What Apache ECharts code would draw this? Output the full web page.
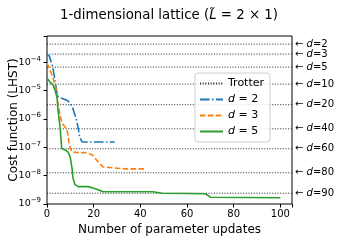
<!DOCTYPE html>
<html><head><meta charset="utf-8">
<script src="https://cdn.jsdelivr.net/npm/echarts@6/dist/echarts.min.js"></script>
<style>html,body{margin:0;padding:0;background:#fff}#c{width:338px;height:242px}</style>
</head><body><div id="c"></div>
<script>
// ---- data ----
const d2Steps = [0, 1, 2.2, 3, 3.9, 4.5, 6, 9, 11, 12.3, 13.3, 14, 15, 29];
const d2Cost  = [1.95e-4, 1.66e-4, 7.9e-5, 3.9e-5, 1.26e-5, 6.5e-6, 5.5e-6, 4.4e-6, 2.45e-6, 1.17e-6, 5.2e-7, 2.3e-7, 1.55e-7, 1.55e-7];
const d3Steps = [0, 2.5, 3.4, 4.3, 4.7, 5.6, 6.4, 7.7, 8.6, 9.4, 9.9, 10.7, 13.3, 16.3, 19.3, 21.9, 24, 27.9, 33.4, 42];
const d3Cost  = [9.5e-5, 3.0e-5, 1.58e-5, 8.3e-6, 3.2e-6, 1.41e-6, 7.2e-7, 5.2e-7, 4.2e-7, 1.55e-7, 9.5e-8, 6.9e-8, 6.5e-8, 6.5e-8, 5.5e-8, 3.1e-8, 2.04e-8, 1.9e-8, 1.74e-8, 1.74e-8];
const d5Steps = [0, 1.3, 2.6, 3.4, 4.3, 4.7, 5.6, 6.3, 7.7, 9, 9.9, 10.7, 11.1, 12, 13.3, 17.6, 19.7, 21.9, 24, 45.4, 49.3, 68, 70, 100];
const d5Cost  = [2.8e-5, 2.0e-5, 1.58e-5, 1.05e-5, 5.9e-6, 2.1e-6, 5.2e-7, 9.3e-8, 8.1e-8, 6.9e-8, 4.7e-8, 1.9e-8, 8.5e-9, 4.8e-9, 4.1e-9, 4.1e-9, 3.7e-9, 3.2e-9, 2.7e-9, 2.7e-9, 2.4e-9, 2.3e-9, 1.74e-9, 1.66e-9];
const trotterD    = [2, 3, 5, 10, 20, 40, 60, 80, 90];
const trotterCost = [4.4e-4, 1.95e-4, 6.8e-5, 1.7e-5, 3.2e-6, 4.5e-7, 8.9e-8, 1.26e-8, 2.4e-9];
const xRange = [0, 105];
const xTicks = [0, 20, 40, 60, 80, 100];

const FONT = 'DejaVu Sans';
const zip = (a, b) => a.map((v, i) => [v, b[i]]);

const trotterSeries = trotterCost.map((v, i) => ({
  name: 'Trotter', type: 'line', data: xRange.map(x => [x, v]),
  symbol: 'none', showSymbol: false, silent: true, z: 2,
  itemStyle: {color: '#222'},
  lineStyle: {color: '#222', width: 1, type: [1, 1.65]},
  endLabel: {show: true, distance: 3, fontFamily: FONT, fontSize: 10, color: '#000',
    formatter: '\u2190 {i|d}=' + trotterD[i],
    rich: {i: {fontFamily: FONT, fontSize: 10, fontStyle: 'italic', color: '#000'}}}
}));

const chart = echarts.init(document.getElementById('c'), null, {renderer: 'canvas'});
chart.setOption({
  animation: false,
  textStyle: {fontFamily: FONT, color: '#000'},
  title: {
    text: '1-dimensional lattice ({i|L\u0303} = 2 \u00d7 1)',
    left: 'center', top: 4,
    textStyle: {fontFamily: FONT, fontSize: 13.3, fontWeight: 'normal', color: '#000',
      rich: {i: {fontFamily: FONT, fontSize: 13.3, fontStyle: 'italic', color: '#000'}}}
  },
  grid: {left: 47, right: 46, top: 36, bottom: 38, show: true, borderColor: '#000', borderWidth: 1,
    backgroundColor: 'transparent', containLabel: false, outerBoundsMode: 'none'},
  legend: {
    orient: 'vertical', left: 195, top: 73,
    itemWidth: 23, itemHeight: 10, itemGap: 5,
    padding: [5, 6, 5, 4],
    borderColor: '#ccc', borderWidth: 1, borderRadius: 3,
    backgroundColor: 'rgba(255,255,255,0.85)',
    itemStyle: {opacity: 0},
    data: ['Trotter', 'd=2', 'd=3', 'd=5'],
    formatter: n => n === 'Trotter' ? 'Trotter' : '{i|d} = ' + n.split('=')[1],
    textStyle: {fontFamily: FONT, fontSize: 11, color: '#000',
      rich: {i: {fontFamily: FONT, fontSize: 11, fontStyle: 'italic', color: '#000'}}}
  },
  xAxis: {
    type: 'value', min: xRange[0], max: xRange[1], interval: 20,
    name: 'Number of parameter updates', nameLocation: 'middle', nameGap: 20, nameMoveOverlap: false,
    nameTextStyle: {fontFamily: FONT, fontSize: 12, color: '#000'},
    axisLine: {show: false},
    axisTick: {show: true, length: 3.5, lineStyle: {color: '#000'}},
    axisLabel: {fontFamily: FONT, fontSize: 10, color: '#000', margin: 5,
      formatter: v => xTicks.indexOf(v) >= 0 ? String(v) : ''},
    splitLine: {show: false}
  },
  yAxis: {
    type: 'log', logBase: 10, min: 1e-9, max: 8.5e-4,
    name: 'Cost function (LHST)', nameLocation: 'middle', nameGap: 27, nameMoveOverlap: false,
    nameTextStyle: {fontFamily: FONT, fontSize: 12, color: '#000'},
    axisLine: {show: false},
    axisTick: {show: true, length: 3.5, lineStyle: {color: '#000'}},
    axisLabel: {fontFamily: FONT, color: '#000', margin: 6,
      formatter: v => {
        const e = Math.log10(v), r = Math.round(e);
        if (Math.abs(e - r) > 1e-6) return '';
        return '{b|10}{s|\u2212' + (-r) + '}';
      },
      rich: {
        b: {fontFamily: FONT, fontSize: 9.5, color: '#000', lineHeight: 14},
        s: {fontFamily: FONT, fontSize: 7, color: '#000', lineHeight: 8, verticalAlign: 'top'}
      }
    },
    splitLine: {show: false}
  },
  series: trotterSeries.concat([
    {
      name: 'd=2', type: 'line', data: zip(d2Steps, d2Cost), symbol: 'none', showSymbol: false,
      itemStyle: {color: '#1f77b4'},
      lineStyle: {color: '#1f77b4', width: 1.6, type: [9.6, 2.4, 1.5, 2.4]}, z: 5
    },
    {
      name: 'd=3', type: 'line', data: zip(d3Steps, d3Cost), symbol: 'none', showSymbol: false,
      itemStyle: {color: '#ff7f0e'},
      lineStyle: {color: '#ff7f0e', width: 1.6, type: [5.5, 2.4]}, z: 5
    },
    {
      name: 'd=5', type: 'line', data: zip(d5Steps, d5Cost), symbol: 'none', showSymbol: false,
      itemStyle: {color: '#2ca02c'},
      lineStyle: {color: '#2ca02c', width: 1.6, type: 'solid'}, z: 5
    }
  ])
});
</script>
</body></html>
